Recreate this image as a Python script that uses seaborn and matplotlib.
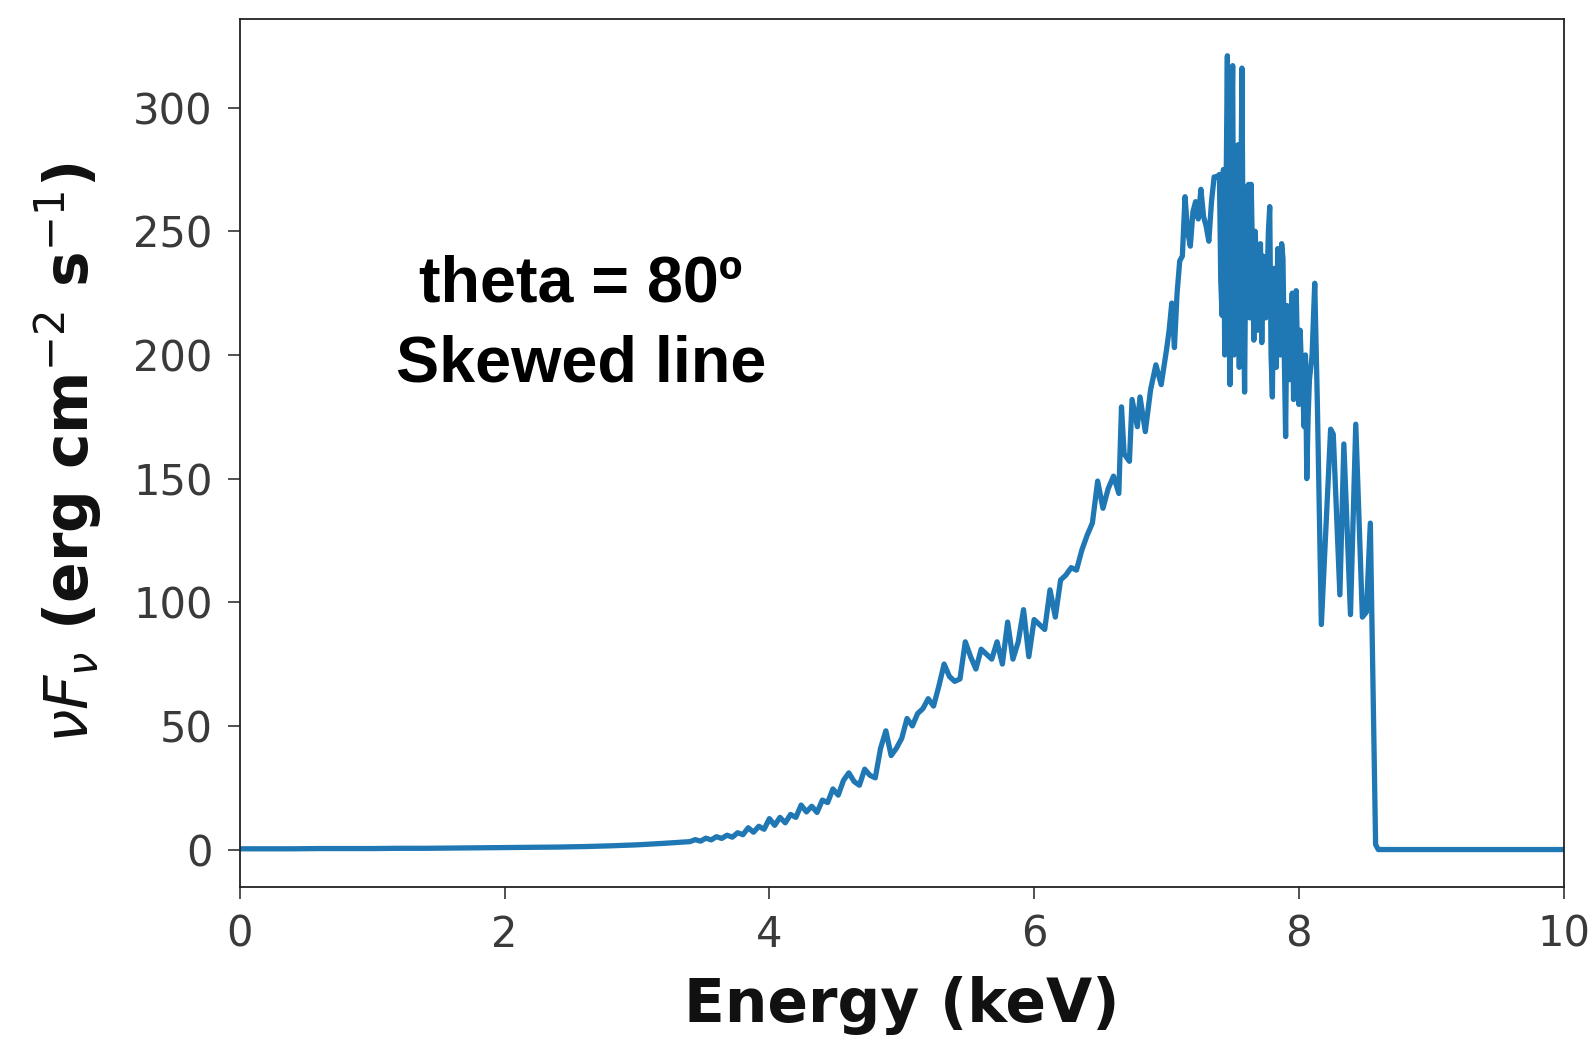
import numpy as np
import pandas as pd
import matplotlib
matplotlib.use("Agg")
import matplotlib.pyplot as plt
import seaborn as sns

# ---- data ----
energy_low = [0.0, 0.2, 0.4, 0.6, 0.8, 1.0, 1.2, 1.4, 1.6, 1.8, 2.0, 2.2, 2.4, 2.6,
              2.8, 3.0, 3.2, 3.4]
flux_low = [0.3, 0.3, 0.3, 0.4, 0.4, 0.4, 0.5, 0.5, 0.6, 0.7, 0.8, 0.9, 1.0, 1.2,
            1.5, 1.9, 2.5, 3.2]

energy_rise = [3.44, 3.48, 3.52, 3.56, 3.60, 3.64, 3.68, 3.72, 3.76, 3.80, 3.84, 3.88,
               3.92, 3.96, 4.00, 4.04, 4.08, 4.12, 4.16, 4.20, 4.24, 4.28, 4.32, 4.36,
               4.40, 4.44, 4.48, 4.52, 4.56, 4.60, 4.64, 4.68, 4.72, 4.76, 4.80, 4.84,
               4.88, 4.92, 4.96, 5.00]
flux_rise = [4.0, 3.4, 4.6, 3.9, 5.2, 4.5, 5.8, 5.0, 6.8, 6.0, 8.8, 7.0,
             9.4, 8.2, 12.5, 9.8, 13.0, 10.8, 14.2, 13.0, 18.0, 15.2, 17.5, 15.0,
             20.0, 19.0, 24.5, 22.0, 28.0, 31.0, 27.5, 26.0, 32.5, 30.0, 29.0, 41.0,
             48.0, 38.0, 41.0, 45.0]

energy_mid = [5.04, 5.08, 5.12, 5.16, 5.20, 5.24, 5.28, 5.32, 5.36, 5.40, 5.44, 5.48,
              5.52, 5.56, 5.60, 5.64, 5.68, 5.72, 5.76, 5.80, 5.84, 5.88, 5.92, 5.96,
              6.00, 6.04, 6.08, 6.12, 6.16, 6.20, 6.24, 6.28, 6.32, 6.36, 6.40, 6.44,
              6.48, 6.52, 6.56, 6.60, 6.64, 6.66, 6.68, 6.72, 6.74, 6.78, 6.80, 6.84,
              6.88, 6.92, 6.96, 7.00]
flux_mid = [53, 50, 55, 57, 61, 58, 66, 75, 70, 68, 69, 84,
            78, 73, 81, 79, 77, 84, 75, 92, 77, 84, 97, 78,
            93, 91, 89, 105, 94, 109, 111, 114, 113, 121, 127, 132,
            149, 138, 146, 151, 144, 179, 160, 157, 182, 171, 183, 169,
            186, 196, 188, 202]

energy_peak = [7.02, 7.04, 7.06, 7.08, 7.10, 7.12, 7.14, 7.16, 7.18, 7.20, 7.22, 7.24,
               7.26, 7.28, 7.30, 7.32, 7.34, 7.36, 7.38, 7.40, 7.41, 7.42, 7.43, 7.44,
               7.45, 7.46, 7.47, 7.48, 7.49, 7.50, 7.51, 7.52, 7.53, 7.54, 7.55, 7.56,
               7.57, 7.58, 7.59, 7.60, 7.61, 7.62, 7.63, 7.64]
flux_peak = [210, 221, 203, 225, 238, 240, 264, 250, 244, 258, 262, 255,
             267, 256, 252, 246, 262, 272, 272, 273, 230, 216, 275, 200,
             265, 321, 220, 188, 280, 317, 200, 240, 208, 285, 195, 250,
             316, 230, 185, 250, 268, 269, 215, 269]

energy_fall = [7.65, 7.66, 7.67, 7.68, 7.69, 7.70, 7.71, 7.72, 7.73, 7.74, 7.75, 7.76,
               7.77, 7.78, 7.79, 7.80, 7.81, 7.82, 7.83, 7.84, 7.85, 7.86, 7.87, 7.88,
               7.89, 7.90, 7.91, 7.92, 7.93, 7.94, 7.95, 7.96, 7.97, 7.98, 7.99, 8.00,
               8.01, 8.02, 8.03, 8.04, 8.05, 8.06, 8.07, 8.08, 8.10, 8.12, 8.14, 8.17,
               8.24, 8.26, 8.31, 8.34, 8.39, 8.43, 8.48, 8.51, 8.54, 8.58, 8.60]
flux_fall = [240, 206, 250, 236, 210, 236, 245, 205, 240, 236, 215, 230,
             250, 260, 200, 183, 235, 230, 195, 243, 220, 200, 245, 239,
             200, 167, 220, 213, 190, 210, 225, 182, 205, 226, 200, 180,
             210, 194, 185, 171, 200, 150, 175, 190, 200, 229, 180, 91,
             170, 168, 103, 164, 95, 172, 94, 96, 132, 2, 0]

energy_tail = [8.8, 9.2, 9.6, 10.0]
flux_tail = [0, 0, 0, 0]

x_ticks = [0, 2, 4, 6, 8, 10]
y_ticks = [0, 50, 100, 150, 200, 250, 300]
annotation = "theta = 80º\nSkewed line"

df = pd.DataFrame({
    "energy": (energy_low + energy_rise + energy_mid + energy_peak + energy_fall
               + energy_tail),
    "flux": flux_low + flux_rise + flux_mid + flux_peak + flux_fall + flux_tail,
})

# ---- style ----
sns.set_style("ticks")
plt.rcParams["font.family"] = ["DejaVu Sans"]

fig = plt.figure(figsize=(15.89, 10.37), dpi=100)
ax = fig.add_axes([0.151, 0.145, 0.833, 0.837])

sns.lineplot(data=df, x="energy", y="flux", ax=ax, color="#1f77b4",
             linewidth=3.8, estimator=None, sort=False)

ax.set_xlim(0, 10)
ax.set_ylim(-15, 336)
ax.set_xticks(x_ticks)
ax.set_xticklabels([str(t) for t in x_ticks])
ax.set_yticks(y_ticks)
ax.set_yticklabels([str(t) for t in y_ticks])

for side in ["top", "right", "left", "bottom"]:
    ax.spines[side].set_visible(True)
    ax.spines[side].set_color("#222222")
    ax.spines[side].set_linewidth(1.3)

ax.tick_params(axis="both", which="major", direction="out", length=8.5, width=1.1,
               color="#222222", labelsize=30, labelcolor="#3a3a3a", pad=11)

ax.set_xlabel("Energy (keV)", fontsize=43, fontweight="bold", color="#111111")
ax.set_ylabel(r"$\nu F_\nu$ (erg cm$^{-2}$ s$^{-1}$)", fontsize=43,
              fontweight="bold", color="#111111")
ax.xaxis.set_label_coords(0.5, -0.103)
ax.yaxis.set_label_coords(-0.103, 0.5)

ax.text(0.2575, 0.648, annotation, transform=ax.transAxes, ha="center",
        va="center", multialignment="center", fontsize=46.5, fontweight="bold",
        family=["Liberation Sans", "DejaVu Sans"], color="black", linespacing=1.42)

fig.savefig("out.png", dpi=100)
